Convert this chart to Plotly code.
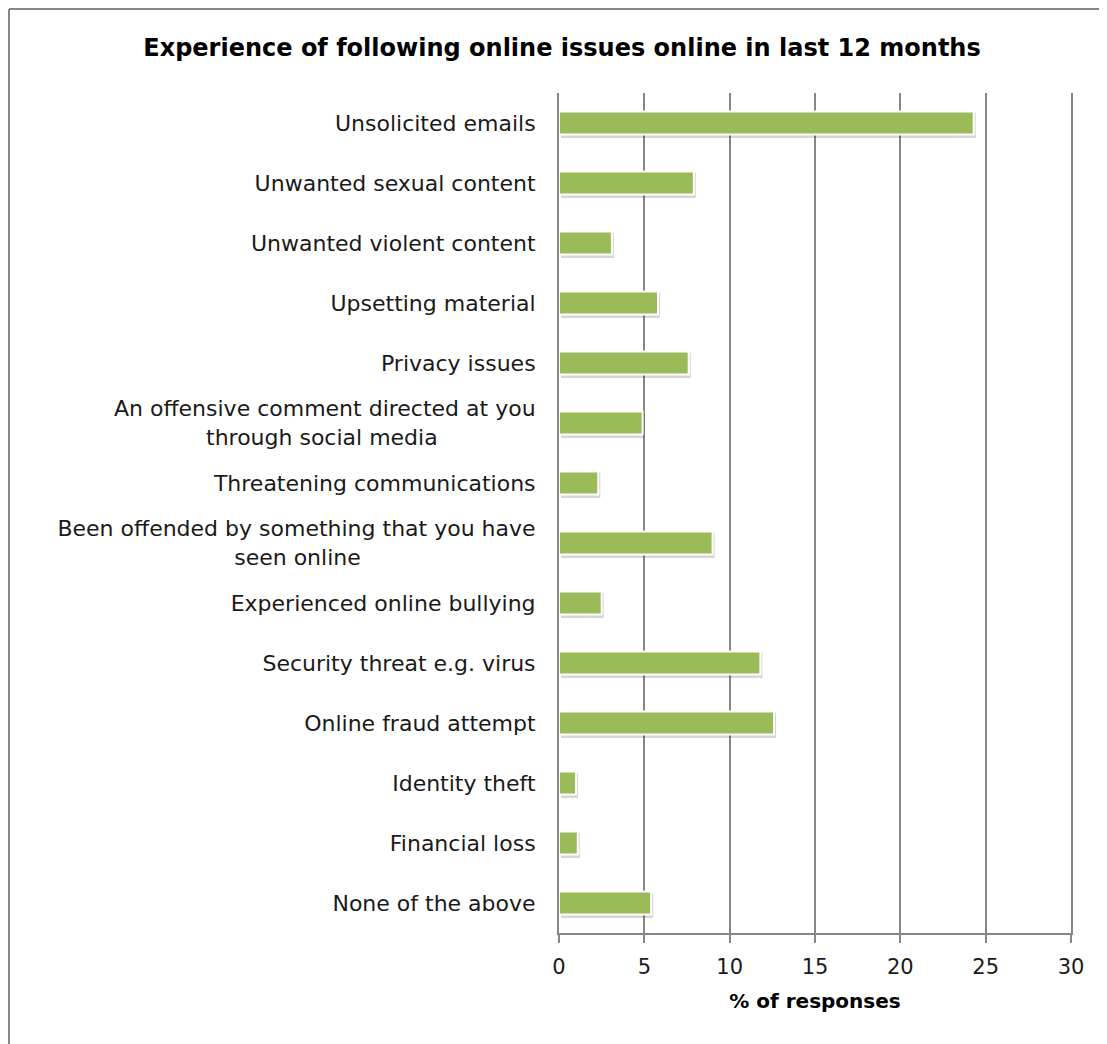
import plotly.graph_objects as go

NB = "\u00a0"
categories = [
    "Unsolicited emails",
    "Unwanted sexual content",
    "Unwanted violent content",
    "Upsetting material",
    "Privacy issues",
    "An offensive comment directed at you<br>through social media" + NB * 14,
    "Threatening communications",
    "Been offended by something that you have<br>seen online" + NB * 25,
    "Experienced online bullying",
    "Security threat e.g. virus",
    "Online fraud attempt",
    "Identity theft",
    "Financial loss",
    "None of the above",
]
values = [24.3, 7.9, 3.1, 5.8, 7.6, 4.9, 2.3, 9.0, 2.5, 11.8, 12.6, 1.0, 1.1, 5.4]
x_ticks = [0, 5, 10, 15, 20, 25, 30]

FONT = "DejaVu Sans"
W, H = 1099, 1036
L, R, T, B = 551, 36, 85, 111
PW, PH = W - L - R, H - T - B

fig = go.Figure()
# soft drop shadow behind each bar
fig.add_trace(go.Bar(
    y=categories,
    x=values,
    base=0.12,
    orientation="h",
    marker=dict(color="rgba(0,0,0,0.16)", line=dict(width=0)),
    width=0.42,
    offset=-0.17,
    showlegend=False,
    hoverinfo="skip",
))
fig.add_trace(go.Bar(
    y=categories,
    x=values,
    orientation="h",
    marker=dict(color="#9BBB59", line=dict(color="white", width=2)),
    width=0.38,
    offset=-0.19,
    showlegend=False,
))

fig.update_layout(
    barmode="overlay",
    width=W,
    height=H,
    paper_bgcolor="white",
    plot_bgcolor="white",
    margin=dict(l=L, r=R, t=T, b=B, autoexpand=False),
    title=dict(
        text="<b>Experience of following online issues online in last 12 months</b>",
        x=554 / W, xanchor="center", y=1 - 40 / H, yanchor="middle",
        font=dict(family=FONT, size=24, color="black"),
    ),
    font=dict(family=FONT, size=22, color="#1a1a1a"),
    xaxis=dict(
        range=[0, 30],
        tickvals=x_ticks,
        showgrid=True,
        gridcolor="#878787",
        gridwidth=2,
        showline=True,
        linecolor="#878787",
        linewidth=2,
        ticks="outside",
        ticklen=8,
        tickwidth=2,
        tickcolor="#878787",
        ticklabelstandoff=6,
        zeroline=False,
        tickfont=dict(family=FONT, size=21, color="#1a1a1a"),
        title=dict(text="<b>% of responses</b>", font=dict(family=FONT, size=20, color="black"), standoff=16),
    ),
    yaxis=dict(
        autorange="reversed",
        showgrid=False,
        showline=True,
        mirror=True,
        linecolor="#878787",
        linewidth=2,
        ticks="",
        ticklabelstandoff=17,
        tickfont=dict(family=FONT, size=22, color="#1a1a1a"),
    ),
    shapes=[
        dict(type="line", xref="paper", yref="paper",
             x0=(1 - L) / PW, x1=(1 - L) / PW, y0=(T + PH - H) / PH, y1=(T + PH - 1) / PH,
             line=dict(color="#868686", width=2)),
        dict(type="line", xref="paper", yref="paper",
             x0=(1 - L) / PW, x1=(W - L) / PW, y0=(T + PH - 1) / PH, y1=(T + PH - 1) / PH,
             line=dict(color="#868686", width=2)),
    ],
)

fig.write_html("out.html")
